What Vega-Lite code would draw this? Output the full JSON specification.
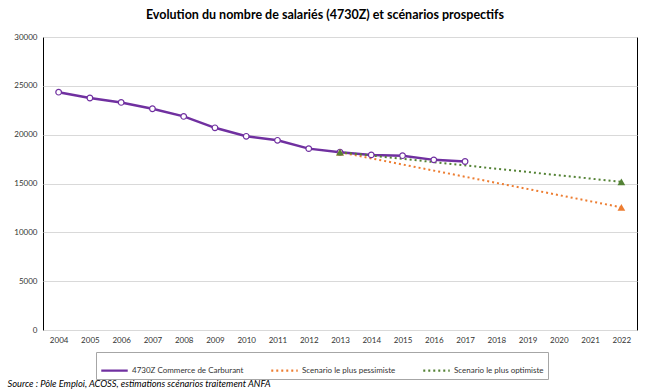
{
  "$schema": "https://vega.github.io/schema/vega-lite/v6.json",
  "width": 594,
  "height": 293,
  "autosize": {"type": "none"},
  "padding": {"left": 43, "top": 37, "right": 13, "bottom": 62},
  "background": "white",
  "title": {
    "text": "Evolution du nombre de salariés (4730Z) et scénarios prospectifs",
    "font": "Lato",
    "fontSize": 12.5,
    "fontWeight": "bold",
    "color": "#000000",
    "anchor": "middle",
    "dx": -15,
    "offset": 12
  },
  "config": {
    "view": {"stroke": "#000000", "strokeWidth": 1},
    "font": "Lato",
    "axis": {"labelFont": "Lato", "labelFontSize": 8, "labelColor": "#333333", "titleFont": "Lato"},
    "legend": {"labelFont": "Lato", "labelFontSize": 8, "labelColor": "#333333"}
  },
  "data": {
    "values": [
      {"year": "2004", "value": 24350, "series": "4730Z Commerce de Carburant"},
      {"year": "2005", "value": 23750, "series": "4730Z Commerce de Carburant"},
      {"year": "2006", "value": 23300, "series": "4730Z Commerce de Carburant"},
      {"year": "2007", "value": 22650, "series": "4730Z Commerce de Carburant"},
      {"year": "2008", "value": 21870, "series": "4730Z Commerce de Carburant"},
      {"year": "2009", "value": 20700, "series": "4730Z Commerce de Carburant"},
      {"year": "2010", "value": 19830, "series": "4730Z Commerce de Carburant"},
      {"year": "2011", "value": 19420, "series": "4730Z Commerce de Carburant"},
      {"year": "2012", "value": 18570, "series": "4730Z Commerce de Carburant"},
      {"year": "2013", "value": 18200, "series": "4730Z Commerce de Carburant"},
      {"year": "2014", "value": 17930, "series": "4730Z Commerce de Carburant"},
      {"year": "2015", "value": 17850, "series": "4730Z Commerce de Carburant"},
      {"year": "2016", "value": 17420, "series": "4730Z Commerce de Carburant"},
      {"year": "2017", "value": 17250, "series": "4730Z Commerce de Carburant"},
      {"year": "2013", "value": 18200, "series": "Scenario le plus pessimiste"},
      {"year": "2022", "value": 12560, "series": "Scenario le plus pessimiste"},
      {"year": "2013", "value": 18200, "series": "Scenario le plus optimiste"},
      {"year": "2022", "value": 15170, "series": "Scenario le plus optimiste"}
    ]
  },
  "encoding": {
    "x": {
      "field": "year",
      "type": "ordinal",
      "scale": {
        "type": "point",
        "padding": 0.5,
        "domain": ["2004","2005","2006","2007","2008","2009","2010","2011","2012","2013","2014","2015","2016","2017","2018","2019","2020","2021","2022"]
      },
      "axis": {
        "title": "Source : Pôle Emploi, ACOSS, estimations scénarios traitement ANFA",
        "titleFont": "Lato",
        "titleFontSize": 9.3,
        "titleFontStyle": "italic",
        "titleFontWeight": "normal",
        "titleColor": "#000000",
        "titleAnchor": "start",
        "titleAlign": "left",
        "titleBaseline": "middle",
        "titleX": -36,
        "titleY": 53,
        "labelAngle": 0,
        "labelPadding": 6,
        "ticks": false,
        "domain": false,
        "grid": false
      }
    },
    "y": {
      "field": "value",
      "type": "quantitative",
      "scale": {"domain": [0, 30000], "nice": false},
      "axis": {
        "title": null,
        "values": [0, 5000, 10000, 15000, 20000, 25000, 30000],
        "format": "d",
        "ticks": false,
        "domain": false,
        "labelPadding": 6,
        "gridColor": "#d9d9d9",
        "gridWidth": 1
      }
    },
    "color": {
      "field": "series",
      "type": "nominal",
      "scale": {
        "domain": ["4730Z Commerce de Carburant", "Scenario le plus pessimiste", "Scenario le plus optimiste"],
        "range": ["#7030a0", "#ed7d31", "#548235"]
      },
      "legend": {
        "title": null,
        "orient": "none",
        "direction": "horizontal",
        "legendX": 53,
        "legendY": 315,
        "columns": 3,
        "columnPadding": 22,
        "padding": 4,
        "strokeColor": "#a6a6a6",
        "fillColor": "#ffffff",
        "symbolType": "stroke",
        "symbolSize": 700,
        "symbolStrokeWidth": 2.2,
        "labelOffset": 3
      }
    }
  },
  "layer": [
    {
      "mark": {"type": "line", "strokeWidth": 2.5},
      "transform": [{"filter": "datum.series === '4730Z Commerce de Carburant'"}]
    },
    {
      "mark": {"type": "line", "strokeWidth": 2},
      "transform": [{"filter": "datum.series !== '4730Z Commerce de Carburant'"}],
      "encoding": {
        "strokeDash": {
          "field": "series",
          "type": "nominal",
          "scale": {
            "domain": ["4730Z Commerce de Carburant", "Scenario le plus pessimiste", "Scenario le plus optimiste"],
            "range": [[1, 0], [2, 3], [2, 3]]
          },
          "legend": null
        }
      }
    },
    {
      "mark": {"type": "point", "shape": "circle", "filled": true, "size": 32, "strokeWidth": 1.2},
      "transform": [{"filter": "datum.series === '4730Z Commerce de Carburant'"}],
      "encoding": {
        "fill": {"value": "#ffffff"},
        "stroke": {"value": "#7030a0"},
        "opacity": {"value": 1}
      }
    },
    {
      "mark": {"type": "point", "shape": "triangle-up", "filled": true, "size": 60, "opacity": 1},
      "transform": [{"filter": "datum.series !== '4730Z Commerce de Carburant'"}]
    }
  ]
}
